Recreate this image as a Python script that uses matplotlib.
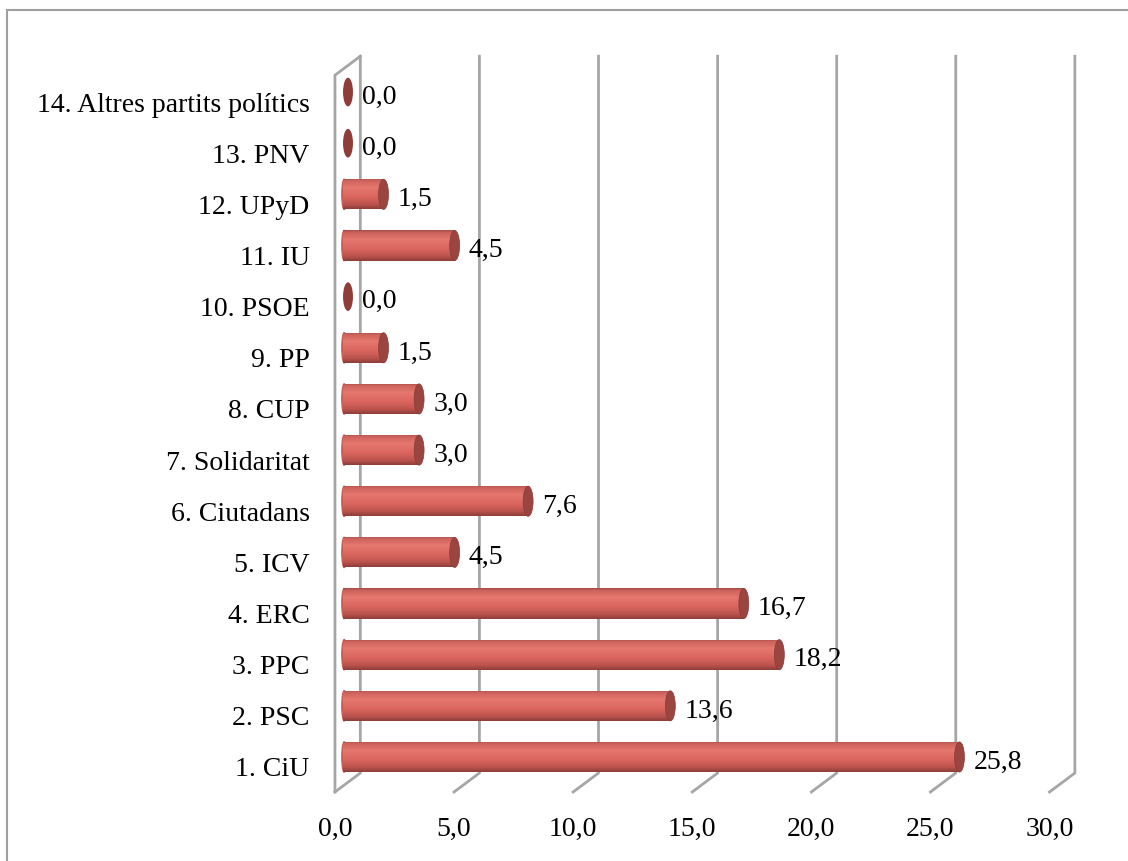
import numpy as np
import matplotlib
matplotlib.use("Agg")
import matplotlib.pyplot as plt
from matplotlib.patches import Ellipse, Rectangle
from matplotlib.colors import LinearSegmentedColormap
from matplotlib.transforms import ScaledTranslation

plt.rcParams['font.family'] = ['Liberation Serif', 'DejaVu Serif']

partits = ['1. CiU', '2. PSC', '3. PPC', '4. ERC', '5. ICV', '6. Ciutadans',
           '7. Solidaritat', '8. CUP', '9. PP', '10. PSOE', '11. IU',
           '12. UPyD', '13. PNV', '14. Altres partits polítics']
valors = [25.8, 13.6, 18.2, 16.7, 4.5, 7.6, 3.0, 3.0, 1.5, 0.0, 4.5, 1.5, 0.0, 0.0]
ticks = [0, 5, 10, 15, 20, 25, 30]

W, H = 1128, 861
fig = plt.figure(figsize=(W / 100, H / 100), dpi=100)

# pixel mapping used to place the axes
pxu = 23.7      # pixels per unit
x0 = 348        # pixel of value 0
rowpx = 51.15   # pixels per row
y0 = 757        # pixel (from top) of row 0
ax_l, ax_r, ax_t, ax_b = 320, 1100, 40, 800
ax = fig.add_axes([ax_l / W, 1 - ax_b / H, (ax_r - ax_l) / W, (ax_b - ax_t) / H])
ax.set_xlim((ax_l - x0) / pxu, (ax_r - x0) / pxu)
ax.set_ylim((y0 - ax_b) / rowpx, (y0 - ax_t) / rowpx)
for s in ax.spines.values():
    s.set_visible(False)

# walls / grid (3D look)
dxf, dxb = -0.55, 0.52
yf, yb, ytop_f, ytop_b = -0.684, -0.313, 13.33, 13.70
grey = '#a6a6a6'
lw = 2.0
ax.plot([dxf, dxf, dxb], [yf, ytop_f, ytop_b], color=grey, lw=lw, clip_on=False)
for t in ticks:
    ax.plot([t * 1.005 + dxf, t * 1.005 + dxb, t * 1.005 + dxb],
            [yf, yb, ytop_b], color=grey, lw=lw, clip_on=False, zorder=1)

# bars with cylinder shading
cmap = LinearSegmentedColormap.from_list('cyl', [
    (0.0, '#a24c47'), (0.07, '#cc625b'), (0.3, '#e5786f'),
    (0.6, '#da665f'), (0.85, '#bb534d'), (1.0, '#8e3e39')])
grad = np.linspace(0, 1, 64).reshape(-1, 1)
bh = 0.59
start = -0.21
cap_w = 0.42
yy = np.arange(len(partits))
bars = ax.barh(yy, [v - start for v in valors], left=start, height=bh,
               color='none', edgecolor='none', zorder=3)
for b, v, y in zip(bars, valors, yy):
    if v > 0:
        im = ax.imshow(grad, cmap=cmap, aspect='auto', zorder=3,
                       extent=[start, v, y - bh / 2, y + bh / 2], origin='upper')
        clip = Rectangle((start, y - bh / 2), v - start, bh, transform=ax.transData)
        im.set_clip_path(clip)
        left_cap = Ellipse((start + 0.05, y), 0.2, bh, color='#c95d56', zorder=2.9)
        ax.add_patch(left_cap)
        ax.add_patch(Ellipse((v, y), cap_w, bh, facecolor='#9a4540',
                             edgecolor='#8a3b37', lw=0.5, zorder=4))
    else:
        ax.add_patch(Ellipse((v, y), cap_w, bh * 0.95, facecolor='#8e3e3a',
                             edgecolor='none', zorder=4))
    ax.text(v + 0.6, y - 0.1, f'{v:.1f}'.replace('.', ','), fontsize=20,
            ha='left', va='center', zorder=5)

ax.set_yticks(yy)
ax.set_yticklabels(partits, fontsize=20)
ax.set_xticks([t * 1.005 + dxf for t in ticks])
ax.set_xticklabels([f'{t:.1f}'.replace('.', ',') for t in ticks], fontsize=20)
ax.tick_params(axis='both', length=0)
ax.tick_params(axis='y', pad=7.5)
ax.tick_params(axis='x', pad=12)
shift = ScaledTranslation(0, -0.1, fig.dpi_scale_trans)
for lab in ax.get_yticklabels():
    lab.set_transform(lab.get_transform() + shift)

# outer border
fig.add_artist(Rectangle((7 / W, -0.01), (W + 10) / W, 1 - 10 / H + 0.01,
                         transform=fig.transFigure, fill=False,
                         edgecolor='#a0a0a0', lw=1.5))

fig.savefig('out.png', dpi=100)
